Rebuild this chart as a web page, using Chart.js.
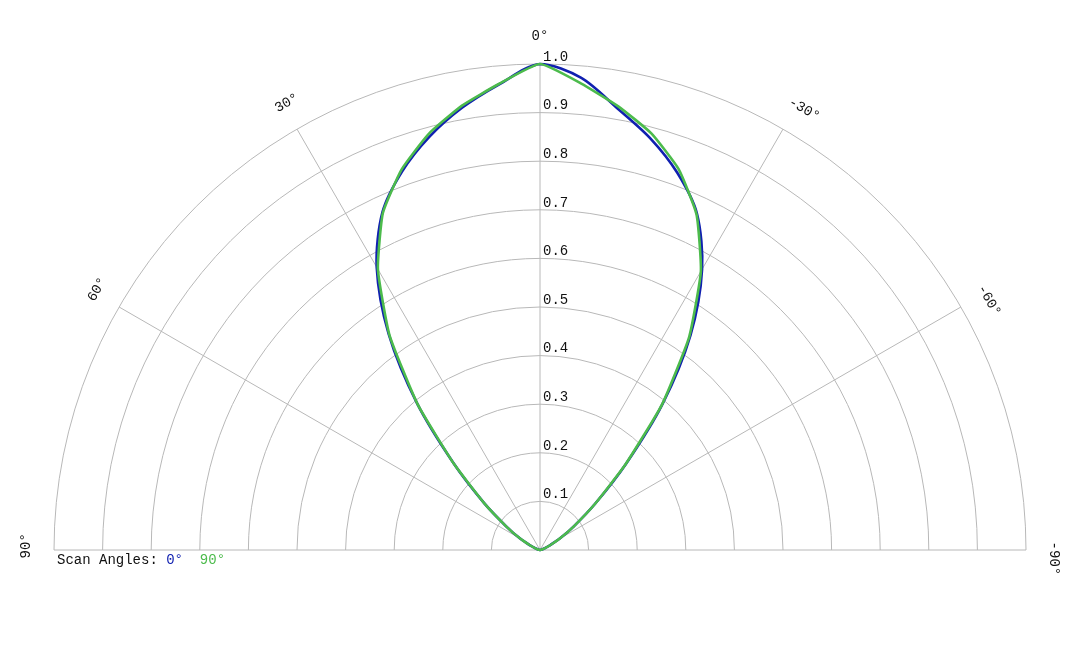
<!DOCTYPE html>
<html>
<head>
<meta charset="utf-8">
<title>Radiation pattern</title>
<script src="https://cdn.jsdelivr.net/npm/chart.js@4.4.1/dist/chart.umd.min.js"></script>
<style>
  html, body { margin: 0; padding: 0; background: #ffffff; }
  #wrap { width: 1080px; height: 648px; position: relative; }
</style>
</head>
<body>
<div id="wrap"><canvas id="chart" width="1080" height="648"></canvas></div>
<script>
// ---- data ----
// angle (deg), positive angles are drawn to the left of 0°
const angles = [-90,-85,-80,-75,-70,-65,-60,-55,-50,-45,-40,-35,-30,-25,-20,-15,-10,-5,0,
                 5,10,15,20,25,30,35,40,45,50,55,60,65,70,75,80,85,90];
const scan0 = [0.000,0.001,0.002,0.004,0.010,0.022,0.047,0.085,0.148,0.249,0.392,0.540,0.667,0.764,0.826,0.877,0.922,0.975,1.000,
               0.962,0.924,0.880,0.829,0.767,0.672,0.543,0.393,0.250,0.150,0.085,0.048,0.022,0.010,0.004,0.002,0.001,0.000];
const scan90 = [0.000,0.001,0.002,0.004,0.010,0.022,0.047,0.085,0.148,0.248,0.390,0.535,0.662,0.762,0.834,0.887,0.927,0.964,1.000,
                0.963,0.928,0.886,0.833,0.765,0.667,0.540,0.392,0.250,0.150,0.085,0.048,0.022,0.010,0.004,0.002,0.001,0.000];
const seriesNames = ['0°', '90°'];
const ringTicks = [0.1,0.2,0.3,0.4,0.5,0.6,0.7,0.8,0.9,1.0];
const spokeAngles = [90,60,30,0,-30,-60,-90];
const spokeLabels = ['90°','60°','30°','0°','-30°','-60°','-90°'];
const legendTitle = 'Scan Angles: ';

// ---- styling ----
const COLORS = ['#1020b0', '#4cbb4c'];
const GRID = '#b8b8b8';
const FONT = '14px "Liberation Mono", "Courier New", monospace';
const LABEL_R = 1.057;

function toXY(a, r) {
  const t = a * Math.PI / 180;
  return { x: -r * Math.sin(t), y: r * Math.cos(t) };
}
function series(vals) {
  return angles.map((a, i) => toXY(a, vals[i]));
}

const polarGrid = {
  id: 'polarGrid',
  beforeDatasetsDraw(chart) {
    const { ctx, scales: { x, y } } = chart;
    const cx = x.getPixelForValue(0), cy = y.getPixelForValue(0);
    ctx.save();
    ctx.strokeStyle = GRID;
    ctx.lineWidth = 1;
    ringTicks.forEach(r => {
      const rad = x.getPixelForValue(r) - cx;
      ctx.beginPath();
      ctx.arc(cx, cy, rad, Math.PI, 2 * Math.PI);
      ctx.stroke();
    });
    const outer = ringTicks[ringTicks.length - 1];
    spokeAngles.forEach(a => {
      const p = toXY(a, outer);
      ctx.beginPath();
      ctx.moveTo(cx, cy);
      ctx.lineTo(x.getPixelForValue(p.x), y.getPixelForValue(p.y));
      ctx.stroke();
    });
    ctx.restore();
  },
  afterDatasetsDraw(chart) {
    const { ctx, scales: { x, y } } = chart;
    const cx = x.getPixelForValue(0), cy = y.getPixelForValue(0);
    ctx.save();
    ctx.font = FONT;
    ctx.fillStyle = '#111';
    const cw = ctx.measureText('0').width;
    // ring labels
    ctx.textAlign = 'left';
    ctx.textBaseline = 'middle';
    ringTicks.forEach(r => {
      ctx.fillText(r.toFixed(1), cx + 3, y.getPixelForValue(r) - 7);
    });
    // angle labels
    spokeAngles.forEach((a, i) => {
      const p = toXY(a, LABEL_R);
      ctx.save();
      ctx.translate(x.getPixelForValue(p.x), y.getPixelForValue(p.y));
      ctx.rotate(-a * Math.PI / 180);
      ctx.textAlign = 'left';
      ctx.textBaseline = 'middle';
      ctx.fillText(spokeLabels[i], -cw, 0);
      ctx.restore();
    });
    // legend
    let lx = x.getPixelForValue(-1) + 3;
    const ly = cy + 10;
    ctx.textAlign = 'left';
    ctx.fillStyle = '#111';
    ctx.fillText(legendTitle, lx, ly);
    lx += ctx.measureText(legendTitle).width;
    seriesNames.forEach((n, i) => {
      ctx.fillStyle = COLORS[i];
      ctx.fillText(n, lx, ly);
      lx += ctx.measureText(n + '  ').width;
    });
    ctx.restore();
  }
};

new Chart(document.getElementById('chart'), {
  type: 'scatter',
  data: {
    datasets: [
      { label: seriesNames[0], data: series(scan0), showLine: true, borderColor: COLORS[0],
        borderWidth: 2.6, pointRadius: 0, tension: 0.3, clip: false, order: 2 },
      { label: seriesNames[1], data: series(scan90), showLine: true, borderColor: COLORS[1],
        borderWidth: 2.6, pointRadius: 0, tension: 0.15, clip: false, order: 1 }
    ]
  },
  options: {
    responsive: false,
    animation: false,
    devicePixelRatio: 1,
    layout: { padding: { left: 54, right: 54, top: 64, bottom: 98 } },
    plugins: { legend: { display: false }, tooltip: { enabled: false } },
    scales: {
      x: { type: 'linear', min: -1, max: 1, display: false },
      y: { type: 'linear', min: 0, max: 1, display: false }
    }
  },
  plugins: [polarGrid]
});
</script>
</body>
</html>
